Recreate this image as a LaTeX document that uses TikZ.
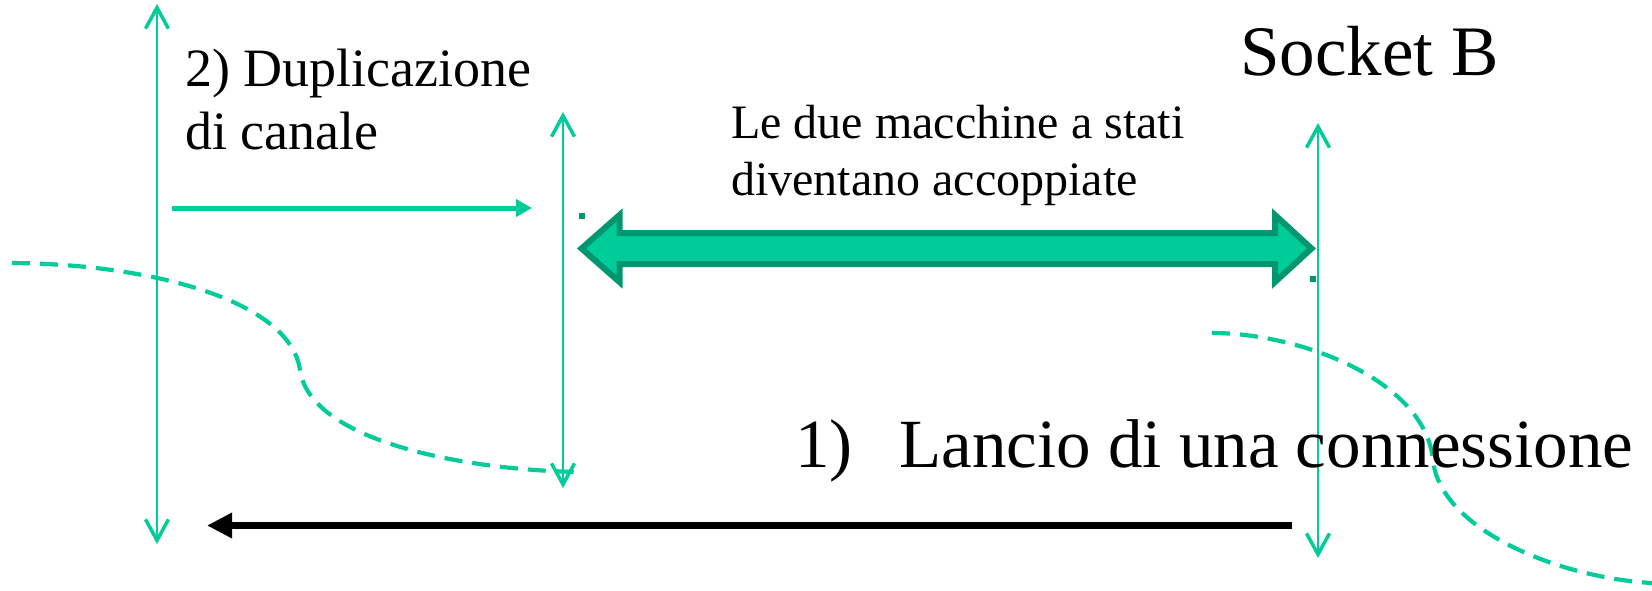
\documentclass[tikz,border=0pt]{standalone}
\usepackage{fontspec}
\setmainfont{Liberation Serif}
\usetikzlibrary{arrows.meta}
\definecolor{sgreen}{RGB}{0,204,153}
\definecolor{dgreen}{RGB}{0,150,112}
\tikzset{
  vbarb/.tip={Straight Barb[length=21pt,width=23pt,line width=3.5pt]},
  vline/.style={draw=sgreen, line width=2.2pt, {vbarb}-{vbarb}},
  dashcurve/.style={draw=sgreen, line width=4.2pt, dash pattern=on 18pt off 10pt},
  lbl/.style={anchor=base west, inner sep=0pt, text=black},
  dotmark/.style={fill=dgreen, draw=none, minimum size=6pt, inner sep=0pt},
}
\begin{document}
\begin{tikzpicture}[x=1pt,y=-1pt]
\useasboundingbox (0,0) rectangle (1652,590);

% vertical socket lines
\coordinate (l1t) at (157,4);   \coordinate (l1b) at (157,544);
\coordinate (l2t) at (563,112); \coordinate (l2b) at (563,488);
\coordinate (l3t) at (1318,123);\coordinate (l3b) at (1318,558);
\draw[vline] (l1b) -- (l1t);
\draw[vline] (l2b) -- (l2t);
\draw[vline] (l3b) -- (l3t);

% dashed curves
\coordinate (c1a) at (12,263);
\coordinate (c1m) at (300,370);
\coordinate (c1b) at (580,472);
\draw[dashcurve] (c1a) .. controls (150,264) and (290,300) .. (c1m)
                       .. controls (310,440) and (460,470) .. (c1b);
\coordinate (c2a) at (1212,333);
\coordinate (c2m) at (1433,460);
\coordinate (c2b) at (1652,583);
\draw[dashcurve] (c2a) .. controls (1300,333) and (1425,380) .. (c2m)
                       .. controls (1440,530) and (1560,578) .. (c2b);

% green duplication arrow
\coordinate (ga) at (172,208);
\coordinate (gb) at (532,208);
\draw[draw=sgreen, line width=5pt, -{Triangle[length=16pt,width=17pt]}] (ga) -- (gb);

% black connection arrow
\coordinate (ka) at (1292,525.5);
\coordinate (kb) at (207,525.5);
\draw[draw=black, line width=7.5pt, -{Triangle[length=25pt,width=24pt]}] (ka) -- (kb);

% big double arrow
\draw[line width=6pt, draw=dgreen, fill=sgreen, line join=miter]
  (581.5,248.5) -- (619.5,215) -- (619.5,233) -- (1275,233) -- (1275,215)
  -- (1311.5,248.5) -- (1275,282) -- (1275,264) -- (619.5,264) -- (619.5,282) -- cycle;

% small dots
\node[dotmark] (d1) at (582,216) {};
\node[dotmark] (d2) at (1313,279) {};

% texts
\node[lbl, font=\fontsize{54}{64}\selectfont] (dup1) at (185,86) {2) Duplicazione};
\node[lbl, font=\fontsize{54}{64}\selectfont] (dup2) at (185,149) {di canale};
\node[lbl, font=\fontsize{48}{57}\selectfont] (m1) at (731,138) {Le due macchine a stati};
\node[lbl, font=\fontsize{48}{57}\selectfont] (m2) at (731,195) {diventano accoppiate};
\node[lbl, font=\fontsize{71}{85}\selectfont] (sock) at (1240,75) {Socket B};
\node[lbl, font=\fontsize{69}{83}\selectfont] (n1) at (795,467) {1)};
\node[lbl, font=\fontsize{69}{83}\selectfont] (lan) at (899,467) {Lancio di una connessione};
\end{tikzpicture}
\end{document}
